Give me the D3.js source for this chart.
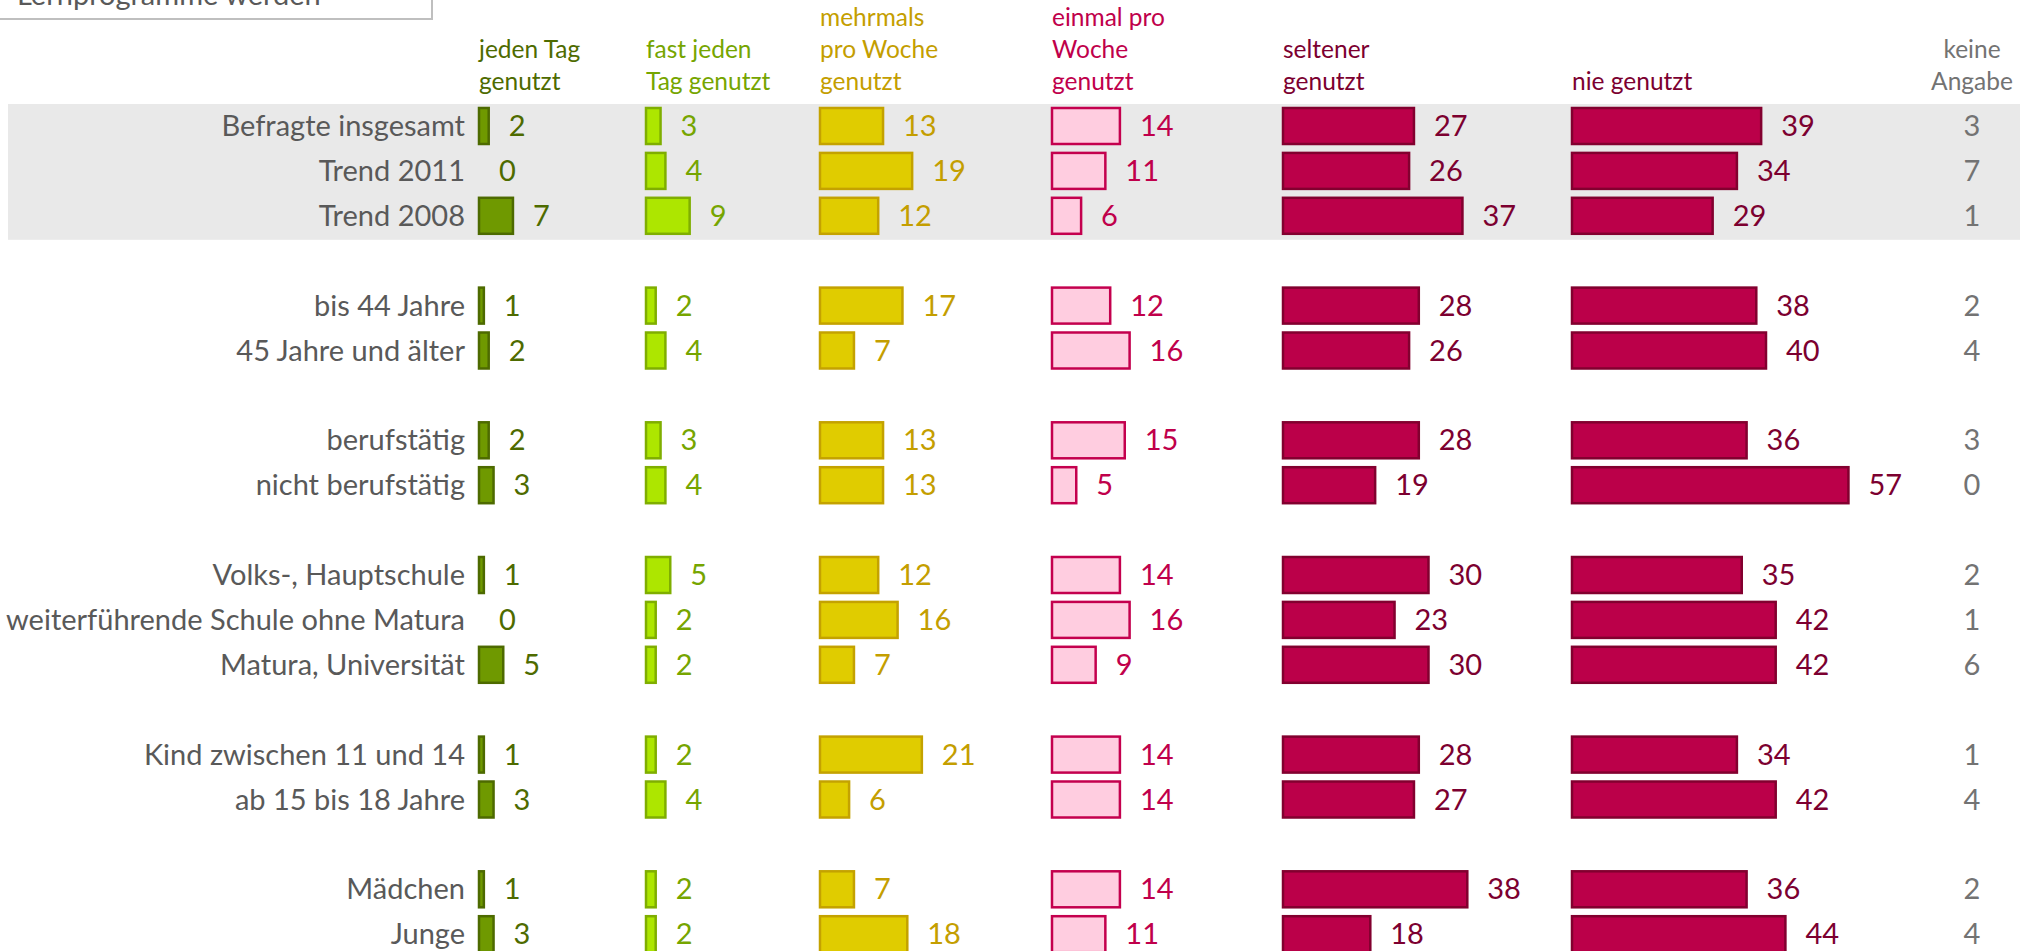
<!DOCTYPE html>
<html>
<head>
<meta charset="utf-8">
<script src="https://cdn.jsdelivr.net/npm/d3@7"></script>
<style>
  html, body { margin: 0; padding: 0; background: #fff; overflow: hidden; }
  svg { display: block; font-family: Lato, "Open Sans", sans-serif; }
</style>
</head>
<body>
<svg id="chart" width="2020" height="951"></svg>
<script>
// ---- data ----
const categories = ["Befragte insgesamt", "Trend 2011", "Trend 2008",
  "bis 44 Jahre", "45 Jahre und älter",
  "berufstätig", "nicht berufstätig",
  "Volks-, Hauptschule", "weiterführende Schule ohne Matura", "Matura, Universität",
  "Kind zwischen 11 und 14", "ab 15 bis 18 Jahre",
  "Mädchen", "Junge"];
const groups = [0, 0, 0, 1, 1, 2, 2, 3, 3, 3, 4, 4, 5, 5];

const jedenTag     = [2, 0, 7, 1, 2, 2, 3, 1, 0, 5, 1, 3, 1, 3];
const fastJedenTag = [3, 4, 9, 2, 4, 3, 4, 5, 2, 2, 2, 4, 2, 2];
const mehrmalsWoche = [13, 19, 12, 17, 7, 13, 13, 12, 16, 7, 21, 6, 7, 18];
const einmalWoche  = [14, 11, 6, 12, 16, 15, 5, 14, 16, 9, 14, 14, 14, 11];
const seltener     = [27, 26, 37, 28, 26, 28, 19, 30, 23, 30, 28, 27, 38, 18];
const nieGenutzt   = [39, 34, 29, 38, 40, 36, 57, 35, 42, 42, 34, 42, 36, 44];
const keineAngabe  = [3, 7, 1, 2, 4, 3, 0, 2, 1, 6, 1, 4, 2, 4];

const headers = [
  ["jeden Tag", "genutzt"],
  ["fast jeden", "Tag genutzt"],
  ["mehrmals", "pro Woche", "genutzt"],
  ["einmal pro", "Woche", "genutzt"],
  ["seltener", "genutzt"],
  ["nie genutzt"],
  ["keine", "Angabe"]
];
const boxTitle = "Lernprogramme werden";

// ---- styles ----
const series = [
  { values: jedenTag,      x0: 478,  fill: "#6f9900", stroke: "#4d6a00", text: "#4e6b00" },
  { values: fastJedenTag,  x0: 645,  fill: "#ade600", stroke: "#7fae00", text: "#76a500" },
  { values: mehrmalsWoche, x0: 819,  fill: "#e0cc00", stroke: "#c4a200", text: "#c49e00" },
  { values: einmalWoche,   x0: 1051, fill: "#ffcde0", stroke: "#c4004e", text: "#c0004b" },
  { values: seltener,      x0: 1282, fill: "#bb0049", stroke: "#82002f", text: "#7c0030" },
  { values: nieGenutzt,    x0: 1571, fill: "#bb0049", stroke: "#82002f", text: "#7c0030" }
];
const keineX = 1972;
const keineColor = "#737373";
const labelColor = "#595959";

const svg = d3.select("#chart");

// scales
const slots = categories.map((c, i) => i + groups[i]);
const y = d3.scalePoint().domain(d3.range(0, d3.max(slots) + 1)).range([126, 126 + 18 * 44.9]);
const x = d3.scaleLinear().domain([0, 100]).range([0, 485]);
const barH = 36;
const fs = 29;

// top-left box (title partly outside the picture, as in the reference)
svg.append("rect").attr("x", -2).attr("y", -4).attr("width", 434).attr("height", 23)
  .attr("fill", "#fff").attr("stroke", "#bfbfbf").attr("stroke-width", 2);
svg.append("text").attr("x", 17).attr("y", 5).attr("font-size", fs)
  .attr("fill", labelColor).text(boxTitle);

// grey band for total rows
svg.append("rect").attr("x", 8).attr("width", 2020 - 8)
  .attr("y", y(0) - 22).attr("height", y(2) - y(0) + 46)
  .attr("fill", "#e9e9e9");

// headers
const headerX = series.map(s => s.x0 + 1).concat([keineX]);
const headerColor = series.map(s => s.text).concat([keineColor]);
headers.forEach((lines, j) => {
  const t = svg.append("text")
    .attr("font-size", 24.5)
    .attr("fill", headerColor[j])
    .attr("text-anchor", j === 6 ? "middle" : "start");
  lines.forEach((ln, k) => {
    t.append("tspan").attr("x", headerX[j])
      .attr("y", 90 - (lines.length - 1 - k) * 32)
      .text(ln);
  });
});

// row labels
svg.append("g").selectAll("text").data(categories).join("text")
  .attr("x", 465).attr("y", (d, i) => y(slots[i]) + 10)
  .attr("text-anchor", "end").attr("font-size", fs).attr("fill", labelColor)
  .text(d => d);

// bars + values
series.forEach(s => {
  const g = svg.append("g");
  const rows = s.values.map((v, i) => ({ v, c: y(slots[i]) }));
  g.selectAll("rect").data(rows.filter(r => r.v > 0)).join("rect")
    .attr("x", s.x0 + 1).attr("y", r => r.c - barH / 2)
    .attr("width", r => x(r.v)).attr("height", barH)
    .attr("fill", s.fill).attr("stroke", s.stroke).attr("stroke-width", 2.5);
  g.selectAll("text").data(rows).join("text")
    .attr("x", r => s.x0 + x(r.v) + 21).attr("y", r => r.c + 10)
    .attr("font-size", fs).attr("fill", s.text)
    .text(r => r.v);
});

// keine Angabe values
svg.append("g").selectAll("text").data(keineAngabe).join("text")
  .attr("x", keineX).attr("y", (d, i) => y(slots[i]) + 10)
  .attr("text-anchor", "middle").attr("font-size", fs).attr("fill", keineColor)
  .text(d => d);
</script>
</body>
</html>
